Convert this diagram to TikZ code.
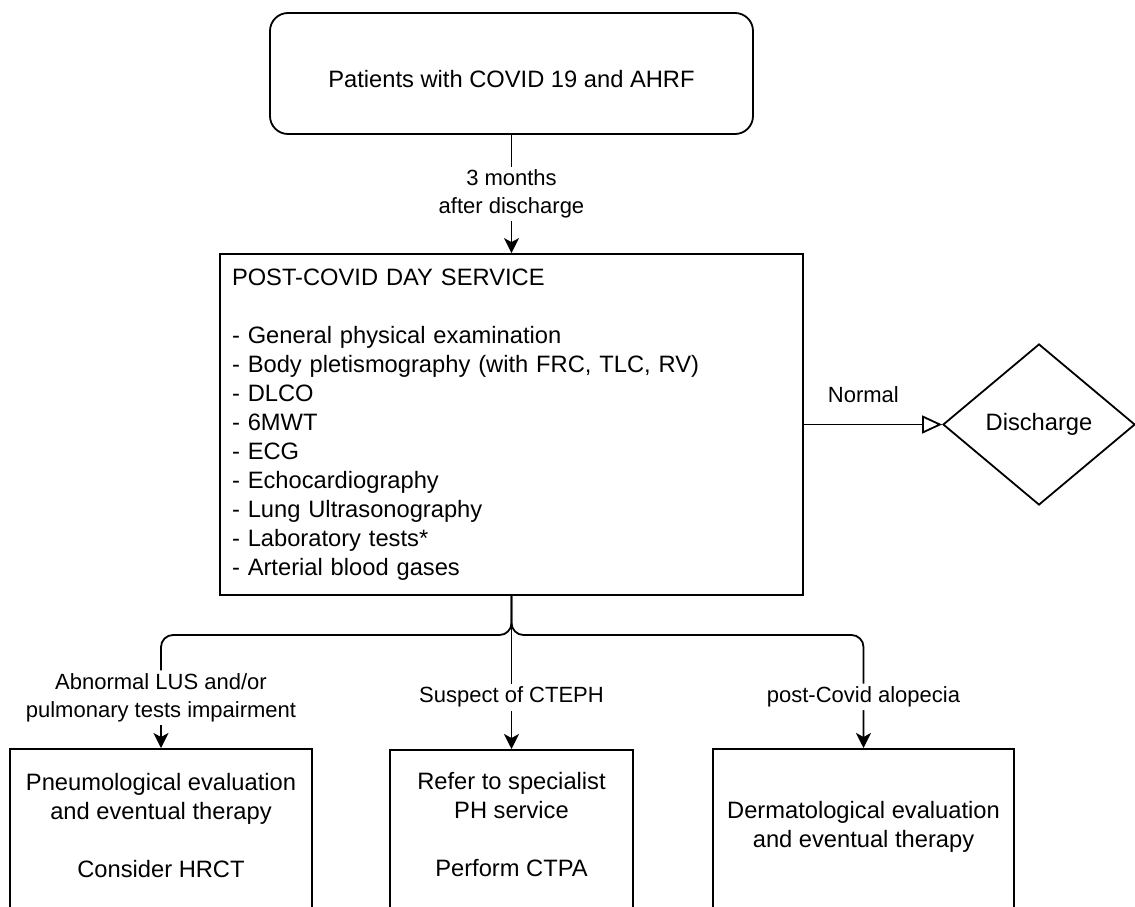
\documentclass[tikz,border=0pt]{standalone}
\usepackage{fontspec}
\setmainfont{Liberation Sans}
\usetikzlibrary{arrows.meta,shapes.geometric}
\begin{document}
\begin{tikzpicture}[x=1pt,y=-1pt,
  box/.style={draw, line width=1.8pt, inner sep=0pt},
  txt/.style={font=\fontsize{23.7}{29}\selectfont, text=black},
  lbl/.style={font=\fontsize{22}{28}\selectfont, align=center, fill=white, inner sep=3pt, text=black},
  conn/.style={line width=1.8pt, -{Stealth[length=15pt,width=15pt,inset=4pt]}},
  openconn/.style={line width=1.8pt, -{Triangle[open,length=20pt,width=18pt]}},
]
\useasboundingbox (0,0) rectangle (1135,907);
\clip (0,0) rectangle (1135,907);

% top box
\node[box, rounded corners=18pt, minimum width=483pt, minimum height=121pt, txt, text height=29pt] (top) at (511.5,73.5) {Patients with COVID 19 and AHRF};

% main box
\node[box, minimum width=583pt, minimum height=341pt, txt, align=left, text width=559pt] (main) at (511.5,424.5)
 {POST-COVID DAY SERVICE\\[29pt]- General physical examination\\- Body pletismography (with FRC, TLC, RV)\\- DLCO\\- 6MWT\\- ECG\\- Echocardiography\\- Lung Ultrasonography\\- Laboratory tests*\\- Arterial blood gases};

% discharge diamond
\node[draw, diamond, line width=1.8pt, minimum width=192pt, minimum height=161pt, inner sep=0pt, txt] (dis) at (1039,424.5) {Discharge};

% bottom boxes
\node[box, minimum width=302pt, minimum height=200pt, anchor=north] (pneu) at (161,748) {};
\node[txt, align=center] (pneut) at (161,826) {Pneumological evaluation\\and eventual therapy\\[29pt]Consider HRCT};

\node[box, minimum width=243pt, minimum height=200pt, anchor=north] (ctpa) at (511.5,749) {};
\node[txt, align=center] (ctpat) at (511.5,825) {Refer to specialist\\PH service\\[29pt]Perform CTPA};

\node[box, minimum width=301pt, minimum height=200pt, anchor=north] (derm) at (863.5,748) {};
\node[txt, align=center] (dermt) at (863.5,827) {Dermatological evaluation\\and eventual therapy};

% connectors
\draw[conn] (top.south) -- node[lbl, pos=0.5] {3 months\\after discharge} (main.north);
\draw[openconn] (main.east) -- node[lbl, fill=none, pos=0.43, yshift=30pt] {Normal} (dis.west);

\coordinate (j) at (511.5,635);
\draw[conn, rounded corners=12pt] (main.south) -- (j) -| node[lbl, pos=0.777] {Abnormal LUS and/or\\pulmonary tests impairment} (pneu.north);
\draw[conn, rounded corners=12pt] (main.south) -- (j) -| node[lbl, pos=0.774] {post-Covid alopecia} (derm.north);
\draw[conn] (main.south) -- node[lbl, pos=0.662] {Suspect of CTEPH} (ctpa.north);
\end{tikzpicture}
\end{document}
